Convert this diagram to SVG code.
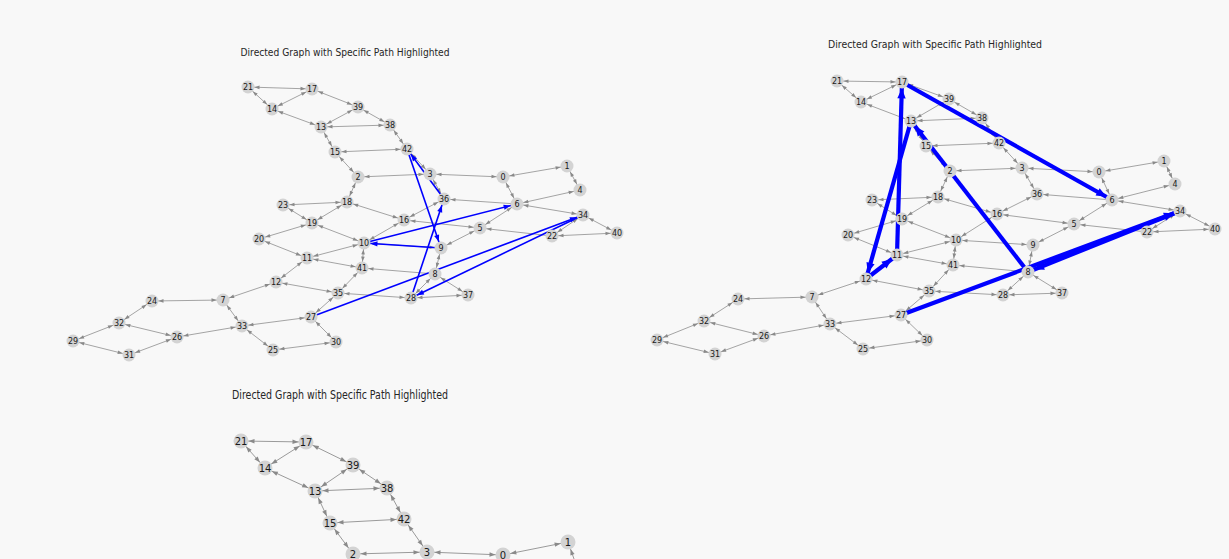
<svg xmlns="http://www.w3.org/2000/svg" width="1229" height="559" viewBox="0 0 1229 559">
<defs>
<style>
.bg{fill:#f8f8f8}
.t{font-family:"DejaVu Sans","Liberation Sans",sans-serif;fill:#262626;text-anchor:middle}
.e line{stroke:#9a9a9a;stroke-width:0.9;fill:none;marker-start:url(#ga);marker-end:url(#ga)}
.e3 line{stroke:#9a9a9a;stroke-width:1;fill:none;marker-start:url(#ga3);marker-end:url(#ga3)}
.e line.s{marker-start:none}
.b1 line{stroke:#0000ff;stroke-width:1.6;marker-end:url(#ba1)}
.b2 line{stroke:#0000ff;stroke-width:4.2;marker-end:url(#ba2)}
.n circle{fill:#d3d3d3;r:6.5px}
.n text{font-family:"DejaVu Sans","Liberation Sans",sans-serif;font-size:8px;fill:#1a1a1a;text-anchor:middle;dominant-baseline:central}
.m circle{fill:#d3d3d3;r:7.5px}
.m text{font-family:"DejaVu Sans","Liberation Sans",sans-serif;font-size:10px;fill:#1a1a1a;text-anchor:middle;dominant-baseline:central}
</style>
<marker id="ga" markerUnits="userSpaceOnUse" orient="auto-start-reverse" refX="11.5" refY="0" markerWidth="20" markerHeight="20" overflow="visible"><path d="M0,-1.8 L5,0 L0,1.8 Z" fill="#8a8a8a"/></marker>
<marker id="ga3" markerUnits="userSpaceOnUse" orient="auto-start-reverse" refX="13.5" refY="0" markerWidth="20" markerHeight="20" overflow="visible"><path d="M0,-2.2 L6,0 L0,2.2 Z" fill="#8a8a8a"/></marker>
<marker id="ba1" markerUnits="userSpaceOnUse" orient="auto" refX="13.5" refY="0" markerWidth="20" markerHeight="20" overflow="visible"><path d="M0,-2.6 L7,0 L0,2.6 Z" fill="#0000ff"/></marker>
<marker id="ba2" markerUnits="userSpaceOnUse" orient="auto" refX="16.5" refY="0" markerWidth="30" markerHeight="30" overflow="visible"><path d="M0,-4.2 L10,0 L0,4.2 Z" fill="#0000ff"/></marker>
</defs>
<rect class="bg" x="0" y="0" width="1229" height="559"/>

<text class="t" x="345" y="55.5" font-size="10" textLength="209" lengthAdjust="spacingAndGlyphs">Directed Graph with Specific Path Highlighted</text>
<text class="t" x="935" y="47.5" font-size="10" textLength="214" lengthAdjust="spacingAndGlyphs">Directed Graph with Specific Path Highlighted</text>
<text class="t" x="340" y="399" font-size="12" textLength="216" lengthAdjust="spacingAndGlyphs">Directed Graph with Specific Path Highlighted</text>

<g id="p1-edges" class="e">
<line x1="248" y1="87" x2="312" y2="89"/>
<line x1="248" y1="87" x2="272" y2="109"/>
<line x1="272" y1="109" x2="312" y2="89"/>
<line x1="312" y1="89" x2="358" y2="107"/>
<line x1="272" y1="109" x2="321" y2="127"/>
<line x1="358" y1="107" x2="321" y2="127"/>
<line x1="358" y1="107" x2="390" y2="125"/>
<line x1="321" y1="127" x2="390" y2="125"/>
<line x1="321" y1="127" x2="335" y2="152"/>
<line x1="390" y1="125" x2="407" y2="149"/>
<line x1="335" y1="152" x2="407" y2="149"/>
<line x1="335" y1="152" x2="358" y2="177"/>
<line x1="407" y1="149" x2="430" y2="174"/>
<line x1="358" y1="177" x2="430" y2="174"/>
<line x1="430" y1="174" x2="503" y2="177"/>
<line x1="503" y1="177" x2="567" y2="166"/>
<line x1="567" y1="166" x2="580" y2="190"/>
<line x1="430" y1="174" x2="444" y2="199"/>
<line x1="503" y1="177" x2="517" y2="204"/>
<line x1="580" y1="190" x2="517" y2="204"/>
<line class="s" x1="517" y1="204" x2="444" y2="199"/>
<line x1="358" y1="177" x2="347" y2="202"/>
<line x1="347" y1="202" x2="283" y2="205"/>
<line x1="283" y1="205" x2="312" y2="223"/>
<line x1="347" y1="202" x2="312" y2="223"/>
<line x1="347" y1="202" x2="404" y2="220"/>
<line x1="444" y1="199" x2="404" y2="220"/>
<line x1="404" y1="220" x2="480" y2="228"/>
<line x1="517" y1="204" x2="480" y2="228"/>
<line x1="517" y1="204" x2="583" y2="215"/>
<line x1="583" y1="215" x2="617" y2="233"/>
<line x1="583" y1="215" x2="552" y2="236"/>
<line x1="552" y1="236" x2="617" y2="233"/>
<line class="s" x1="552" y1="236" x2="480" y2="228"/>
<line x1="312" y1="223" x2="259" y2="239"/>
<line x1="312" y1="223" x2="364" y2="243"/>
<line x1="404" y1="220" x2="364" y2="243"/>
<line x1="480" y1="228" x2="441" y2="248"/>
<line x1="259" y1="239" x2="307" y2="258"/>
<line x1="364" y1="243" x2="307" y2="258"/>
<line x1="364" y1="243" x2="441" y2="248"/>
<line x1="364" y1="243" x2="362" y2="268"/>
<line x1="307" y1="258" x2="362" y2="268"/>
<line x1="441" y1="248" x2="435" y2="274"/>
<line class="s" x1="435" y1="274" x2="362" y2="268"/>
<line x1="307" y1="258" x2="276" y2="282"/>
<line x1="362" y1="268" x2="338" y2="293"/>
<line x1="276" y1="282" x2="338" y2="293"/>
<line x1="435" y1="274" x2="411" y2="298"/>
<line x1="435" y1="274" x2="468" y2="295"/>
<line x1="338" y1="293" x2="411" y2="298"/>
<line x1="411" y1="298" x2="468" y2="295"/>
<line x1="338" y1="293" x2="311" y2="317"/>
<line x1="276" y1="282" x2="223" y2="300"/>
<line x1="223" y1="300" x2="152" y2="301"/>
<line x1="223" y1="300" x2="242" y2="326"/>
<line x1="152" y1="301" x2="119" y2="323"/>
<line x1="119" y1="323" x2="73" y2="341"/>
<line x1="119" y1="323" x2="177" y2="337"/>
<line x1="73" y1="341" x2="129" y2="355"/>
<line x1="129" y1="355" x2="177" y2="337"/>
<line x1="177" y1="337" x2="242" y2="326"/>
<line x1="242" y1="326" x2="311" y2="317"/>
<line x1="242" y1="326" x2="273" y2="350"/>
<line x1="311" y1="317" x2="336" y2="342"/>
<line x1="273" y1="350" x2="336" y2="342"/>
</g>
<g id="p1-path" class="b1">
<line x1="311" y1="317" x2="583" y2="215"/>
<line x1="583" y1="215" x2="411" y2="298"/>
<line x1="411" y1="298" x2="444" y2="199"/>
<line x1="444" y1="199" x2="407" y2="149"/>
<line x1="407" y1="149" x2="441" y2="248"/>
<line x1="441" y1="248" x2="364" y2="243"/>
<line x1="364" y1="243" x2="517" y2="204"/>
</g>

<g id="p2-edges" class="e">
<line x1="837" y1="81" x2="902" y2="82"/>
<line x1="837" y1="81" x2="861" y2="102"/>
<line x1="861" y1="102" x2="902" y2="82"/>
<line x1="902" y1="82" x2="949" y2="99"/>
<line x1="861" y1="102" x2="911" y2="121"/>
<line x1="949" y1="99" x2="911" y2="121"/>
<line x1="949" y1="99" x2="982" y2="118"/>
<line x1="911" y1="121" x2="982" y2="118"/>
<line x1="911" y1="121" x2="926" y2="146"/>
<line x1="982" y1="118" x2="999" y2="143"/>
<line x1="926" y1="146" x2="999" y2="143"/>
<line x1="926" y1="146" x2="950" y2="171"/>
<line x1="999" y1="143" x2="1022" y2="168"/>
<line x1="950" y1="171" x2="1022" y2="168"/>
<line x1="1022" y1="168" x2="1099" y2="172"/>
<line x1="1099" y1="172" x2="1164" y2="161"/>
<line x1="1164" y1="161" x2="1175" y2="184"/>
<line x1="1022" y1="168" x2="1037" y2="194"/>
<line x1="1099" y1="172" x2="1112" y2="200"/>
<line x1="1175" y1="184" x2="1112" y2="200"/>
<line class="s" x1="1112" y1="200" x2="1037" y2="194"/>
<line x1="950" y1="171" x2="938" y2="197"/>
<line x1="938" y1="197" x2="872" y2="200"/>
<line x1="872" y1="200" x2="902" y2="219"/>
<line x1="938" y1="197" x2="902" y2="219"/>
<line x1="938" y1="197" x2="997" y2="214"/>
<line x1="1037" y1="194" x2="997" y2="214"/>
<line x1="997" y1="214" x2="1074" y2="224"/>
<line x1="1112" y1="200" x2="1074" y2="224"/>
<line x1="1112" y1="200" x2="1180" y2="211"/>
<line x1="1180" y1="211" x2="1215" y2="229"/>
<line x1="1180" y1="211" x2="1147" y2="232"/>
<line x1="1147" y1="232" x2="1215" y2="229"/>
<line class="s" x1="1147" y1="232" x2="1074" y2="224"/>
<line x1="902" y1="219" x2="848" y2="235"/>
<line x1="902" y1="219" x2="956" y2="240"/>
<line x1="997" y1="214" x2="956" y2="240"/>
<line x1="1074" y1="224" x2="1033" y2="245"/>
<line x1="848" y1="235" x2="897" y2="255"/>
<line x1="956" y1="240" x2="897" y2="255"/>
<line x1="956" y1="240" x2="1033" y2="245"/>
<line x1="956" y1="240" x2="953" y2="265"/>
<line x1="897" y1="255" x2="953" y2="265"/>
<line x1="1033" y1="245" x2="1028" y2="272"/>
<line class="s" x1="1028" y1="272" x2="953" y2="265"/>
<line x1="897" y1="255" x2="866" y2="279"/>
<line x1="953" y1="265" x2="929" y2="291"/>
<line x1="866" y1="279" x2="929" y2="291"/>
<line x1="1028" y1="272" x2="1003" y2="295"/>
<line x1="1028" y1="272" x2="1062" y2="293"/>
<line x1="929" y1="291" x2="1003" y2="295"/>
<line x1="1003" y1="295" x2="1062" y2="293"/>
<line x1="929" y1="291" x2="901" y2="315"/>
<line x1="866" y1="279" x2="812" y2="297"/>
<line x1="812" y1="297" x2="738" y2="299"/>
<line x1="812" y1="297" x2="830" y2="324"/>
<line x1="738" y1="299" x2="704" y2="321"/>
<line x1="704" y1="321" x2="657" y2="340"/>
<line x1="704" y1="321" x2="764" y2="336"/>
<line x1="657" y1="340" x2="715" y2="354"/>
<line x1="715" y1="354" x2="764" y2="336"/>
<line x1="764" y1="336" x2="830" y2="324"/>
<line x1="830" y1="324" x2="901" y2="315"/>
<line x1="830" y1="324" x2="863" y2="349"/>
<line x1="901" y1="315" x2="927" y2="340"/>
<line x1="863" y1="349" x2="927" y2="340"/>
</g>
<g id="p2-path" class="b2">
<line x1="901" y1="315" x2="1180" y2="211"/>
<line x1="1180" y1="211" x2="1028" y2="272"/>
<line x1="1028" y1="272" x2="911" y2="121"/>
<line x1="911" y1="121" x2="866" y2="279"/>
<line x1="866" y1="279" x2="897" y2="255"/>
<line x1="897" y1="255" x2="902" y2="82"/>
<line x1="902" y1="82" x2="1112" y2="200"/>
</g>

<g id="p3-edges" class="e3">
<line x1="241" y1="441" x2="306" y2="442"/>
<line x1="241" y1="441" x2="265" y2="468"/>
<line x1="265" y1="468" x2="306" y2="442"/>
<line x1="306" y1="442" x2="353" y2="465"/>
<line x1="265" y1="468" x2="315" y2="491"/>
<line x1="353" y1="465" x2="315" y2="491"/>
<line x1="353" y1="465" x2="387" y2="488"/>
<line x1="315" y1="491" x2="387" y2="488"/>
<line x1="315" y1="491" x2="330" y2="523"/>
<line x1="387" y1="488" x2="404" y2="519"/>
<line x1="330" y1="523" x2="404" y2="519"/>
<line x1="330" y1="523" x2="353" y2="554"/>
<line x1="404" y1="519" x2="427" y2="552"/>
<line x1="353" y1="554" x2="427" y2="552"/>
<line x1="427" y1="552" x2="503" y2="555"/>
<line x1="503" y1="555" x2="568" y2="542"/>
<line x1="568" y1="542" x2="579" y2="573"/>
</g>

<g id="p1-nodes" class="n">
<g id="p1-n0"><circle cx="503" cy="177" r="6"/><text x="503" y="177">0</text></g>
<g id="p1-n1"><circle cx="567" cy="166" r="6"/><text x="567" y="166">1</text></g>
<g id="p1-n2"><circle cx="358" cy="177" r="6"/><text x="358" y="177">2</text></g>
<g id="p1-n3"><circle cx="430" cy="174" r="6"/><text x="430" y="174">3</text></g>
<g id="p1-n4"><circle cx="580" cy="190" r="6"/><text x="580" y="190">4</text></g>
<g id="p1-n5"><circle cx="480" cy="228" r="6"/><text x="480" y="228">5</text></g>
<g id="p1-n6"><circle cx="517" cy="204" r="6"/><text x="517" y="204">6</text></g>
<g id="p1-n7"><circle cx="223" cy="300" r="6"/><text x="223" y="300">7</text></g>
<g id="p1-n8"><circle cx="435" cy="274" r="6"/><text x="435" y="274">8</text></g>
<g id="p1-n9"><circle cx="441" cy="248" r="6"/><text x="441" y="248">9</text></g>
<g id="p1-n10"><circle cx="364" cy="243" r="6"/><text x="364" y="243">10</text></g>
<g id="p1-n11"><circle cx="307" cy="258" r="6"/><text x="307" y="258">11</text></g>
<g id="p1-n12"><circle cx="276" cy="282" r="6"/><text x="276" y="282">12</text></g>
<g id="p1-n13"><circle cx="321" cy="127" r="6"/><text x="321" y="127">13</text></g>
<g id="p1-n14"><circle cx="272" cy="109" r="6"/><text x="272" y="109">14</text></g>
<g id="p1-n15"><circle cx="335" cy="152" r="6"/><text x="335" y="152">15</text></g>
<g id="p1-n16"><circle cx="404" cy="220" r="6"/><text x="404" y="220">16</text></g>
<g id="p1-n17"><circle cx="312" cy="89" r="6"/><text x="312" y="89">17</text></g>
<g id="p1-n18"><circle cx="347" cy="202" r="6"/><text x="347" y="202">18</text></g>
<g id="p1-n19"><circle cx="312" cy="223" r="6"/><text x="312" y="223">19</text></g>
<g id="p1-n20"><circle cx="259" cy="239" r="6"/><text x="259" y="239">20</text></g>
<g id="p1-n21"><circle cx="248" cy="87" r="6"/><text x="248" y="87">21</text></g>
<g id="p1-n22"><circle cx="552" cy="236" r="6"/><text x="552" y="236">22</text></g>
<g id="p1-n23"><circle cx="283" cy="205" r="6"/><text x="283" y="205">23</text></g>
<g id="p1-n24"><circle cx="152" cy="301" r="6"/><text x="152" y="301">24</text></g>
<g id="p1-n25"><circle cx="273" cy="350" r="6"/><text x="273" y="350">25</text></g>
<g id="p1-n26"><circle cx="177" cy="337" r="6"/><text x="177" y="337">26</text></g>
<g id="p1-n27"><circle cx="311" cy="317" r="6"/><text x="311" y="317">27</text></g>
<g id="p1-n28"><circle cx="411" cy="298" r="6"/><text x="411" y="298">28</text></g>
<g id="p1-n29"><circle cx="73" cy="341" r="6"/><text x="73" y="341">29</text></g>
<g id="p1-n30"><circle cx="336" cy="342" r="6"/><text x="336" y="342">30</text></g>
<g id="p1-n31"><circle cx="129" cy="355" r="6"/><text x="129" y="355">31</text></g>
<g id="p1-n32"><circle cx="119" cy="323" r="6"/><text x="119" y="323">32</text></g>
<g id="p1-n33"><circle cx="242" cy="326" r="6"/><text x="242" y="326">33</text></g>
<g id="p1-n34"><circle cx="583" cy="215" r="6"/><text x="583" y="215">34</text></g>
<g id="p1-n35"><circle cx="338" cy="293" r="6"/><text x="338" y="293">35</text></g>
<g id="p1-n36"><circle cx="444" cy="199" r="6"/><text x="444" y="199">36</text></g>
<g id="p1-n37"><circle cx="468" cy="295" r="6"/><text x="468" y="295">37</text></g>
<g id="p1-n38"><circle cx="390" cy="125" r="6"/><text x="390" y="125">38</text></g>
<g id="p1-n39"><circle cx="358" cy="107" r="6"/><text x="358" y="107">39</text></g>
<g id="p1-n40"><circle cx="617" cy="233" r="6"/><text x="617" y="233">40</text></g>
<g id="p1-n41"><circle cx="362" cy="268" r="6"/><text x="362" y="268">41</text></g>
<g id="p1-n42"><circle cx="407" cy="149" r="6"/><text x="407" y="149">42</text></g>
</g>

<g id="p2-nodes" class="n">
<g id="p2-n0"><circle cx="1099" cy="172" r="6"/><text x="1099" y="172">0</text></g>
<g id="p2-n1"><circle cx="1164" cy="161" r="6"/><text x="1164" y="161">1</text></g>
<g id="p2-n2"><circle cx="950" cy="171" r="6"/><text x="950" y="171">2</text></g>
<g id="p2-n3"><circle cx="1022" cy="168" r="6"/><text x="1022" y="168">3</text></g>
<g id="p2-n4"><circle cx="1175" cy="184" r="6"/><text x="1175" y="184">4</text></g>
<g id="p2-n5"><circle cx="1074" cy="224" r="6"/><text x="1074" y="224">5</text></g>
<g id="p2-n6"><circle cx="1112" cy="200" r="6"/><text x="1112" y="200">6</text></g>
<g id="p2-n7"><circle cx="812" cy="297" r="6"/><text x="812" y="297">7</text></g>
<g id="p2-n8"><circle cx="1028" cy="272" r="6"/><text x="1028" y="272">8</text></g>
<g id="p2-n9"><circle cx="1033" cy="245" r="6"/><text x="1033" y="245">9</text></g>
<g id="p2-n10"><circle cx="956" cy="240" r="6"/><text x="956" y="240">10</text></g>
<g id="p2-n11"><circle cx="897" cy="255" r="6"/><text x="897" y="255">11</text></g>
<g id="p2-n12"><circle cx="866" cy="279" r="6"/><text x="866" y="279">12</text></g>
<g id="p2-n13"><circle cx="911" cy="121" r="6"/><text x="911" y="121">13</text></g>
<g id="p2-n14"><circle cx="861" cy="102" r="6"/><text x="861" y="102">14</text></g>
<g id="p2-n15"><circle cx="926" cy="146" r="6"/><text x="926" y="146">15</text></g>
<g id="p2-n16"><circle cx="997" cy="214" r="6"/><text x="997" y="214">16</text></g>
<g id="p2-n17"><circle cx="902" cy="82" r="6"/><text x="902" y="82">17</text></g>
<g id="p2-n18"><circle cx="938" cy="197" r="6"/><text x="938" y="197">18</text></g>
<g id="p2-n19"><circle cx="902" cy="219" r="6"/><text x="902" y="219">19</text></g>
<g id="p2-n20"><circle cx="848" cy="235" r="6"/><text x="848" y="235">20</text></g>
<g id="p2-n21"><circle cx="837" cy="81" r="6"/><text x="837" y="81">21</text></g>
<g id="p2-n22"><circle cx="1147" cy="232" r="6"/><text x="1147" y="232">22</text></g>
<g id="p2-n23"><circle cx="872" cy="200" r="6"/><text x="872" y="200">23</text></g>
<g id="p2-n24"><circle cx="738" cy="299" r="6"/><text x="738" y="299">24</text></g>
<g id="p2-n25"><circle cx="863" cy="349" r="6"/><text x="863" y="349">25</text></g>
<g id="p2-n26"><circle cx="764" cy="336" r="6"/><text x="764" y="336">26</text></g>
<g id="p2-n27"><circle cx="901" cy="315" r="6"/><text x="901" y="315">27</text></g>
<g id="p2-n28"><circle cx="1003" cy="295" r="6"/><text x="1003" y="295">28</text></g>
<g id="p2-n29"><circle cx="657" cy="340" r="6"/><text x="657" y="340">29</text></g>
<g id="p2-n30"><circle cx="927" cy="340" r="6"/><text x="927" y="340">30</text></g>
<g id="p2-n31"><circle cx="715" cy="354" r="6"/><text x="715" y="354">31</text></g>
<g id="p2-n32"><circle cx="704" cy="321" r="6"/><text x="704" y="321">32</text></g>
<g id="p2-n33"><circle cx="830" cy="324" r="6"/><text x="830" y="324">33</text></g>
<g id="p2-n34"><circle cx="1180" cy="211" r="6"/><text x="1180" y="211">34</text></g>
<g id="p2-n35"><circle cx="929" cy="291" r="6"/><text x="929" y="291">35</text></g>
<g id="p2-n36"><circle cx="1037" cy="194" r="6"/><text x="1037" y="194">36</text></g>
<g id="p2-n37"><circle cx="1062" cy="293" r="6"/><text x="1062" y="293">37</text></g>
<g id="p2-n38"><circle cx="982" cy="118" r="6"/><text x="982" y="118">38</text></g>
<g id="p2-n39"><circle cx="949" cy="99" r="6"/><text x="949" y="99">39</text></g>
<g id="p2-n40"><circle cx="1215" cy="229" r="6"/><text x="1215" y="229">40</text></g>
<g id="p2-n41"><circle cx="953" cy="265" r="6"/><text x="953" y="265">41</text></g>
<g id="p2-n42"><circle cx="999" cy="143" r="6"/><text x="999" y="143">42</text></g>
</g>

<g id="p3-nodes" class="m">
<g id="p3-n21"><circle cx="241" cy="441" r="7"/><text x="241" y="441">21</text></g>
<g id="p3-n17"><circle cx="306" cy="442" r="7"/><text x="306" y="442">17</text></g>
<g id="p3-n14"><circle cx="265" cy="468" r="7"/><text x="265" y="468">14</text></g>
<g id="p3-n39"><circle cx="353" cy="465" r="7"/><text x="353" y="465">39</text></g>
<g id="p3-n13"><circle cx="315" cy="491" r="7"/><text x="315" y="491">13</text></g>
<g id="p3-n38"><circle cx="387" cy="488" r="7"/><text x="387" y="488">38</text></g>
<g id="p3-n15"><circle cx="330" cy="523" r="7"/><text x="330" y="523">15</text></g>
<g id="p3-n42"><circle cx="404" cy="519" r="7"/><text x="404" y="519">42</text></g>
<g id="p3-n2"><circle cx="353" cy="554" r="7"/><text x="353" y="554">2</text></g>
<g id="p3-n3"><circle cx="427" cy="552" r="7"/><text x="427" y="552">3</text></g>
<g id="p3-n0"><circle cx="503" cy="555" r="7"/><text x="503" y="555">0</text></g>
<g id="p3-n1"><circle cx="568" cy="542" r="7"/><text x="568" y="542">1</text></g>
</g>
</svg>
